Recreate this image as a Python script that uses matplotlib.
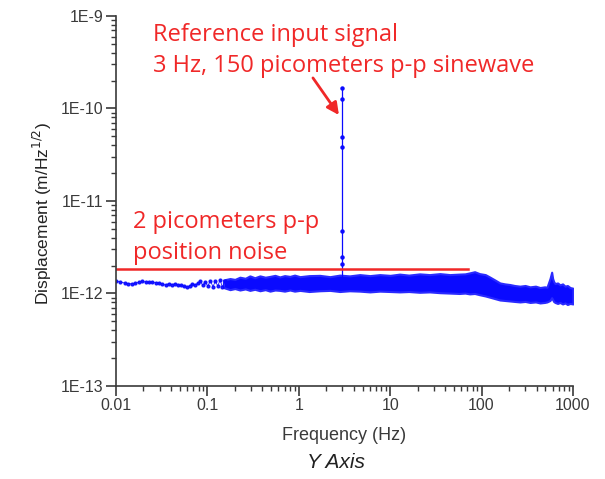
import numpy as np
import matplotlib
matplotlib.use("Agg")
import matplotlib.pyplot as plt
from matplotlib.ticker import FixedLocator, LogLocator, NullFormatter

# sparse low-frequency points of the spectrum
low_freq = [0.0101, 0.0112, 0.0124, 0.0137, 0.0150, 0.0163, 0.0178, 0.0194,
            0.0212, 0.0230, 0.0250, 0.0273, 0.0297, 0.0322, 0.0349, 0.0378,
            0.0410, 0.0442, 0.0477, 0.0515, 0.0555, 0.0597, 0.0640, 0.0686,
            0.0735, 0.0787, 0.0840, 0.0890, 0.0950, 0.1010, 0.1080, 0.1150,
            0.1220, 0.1300, 0.1380, 0.1460, 0.1550]
low_disp = [1.36e-12, 1.33e-12, 1.30e-12, 1.28e-12, 1.27e-12, 1.29e-12,
            1.33e-12, 1.36e-12, 1.33e-12, 1.32e-12, 1.33e-12, 1.31e-12,
            1.30e-12, 1.27e-12, 1.23e-12, 1.28e-12, 1.25e-12, 1.27e-12,
            1.24e-12, 1.22e-12, 1.19e-12, 1.17e-12, 1.21e-12, 1.26e-12,
            1.24e-12, 1.29e-12, 1.36e-12, 1.22e-12, 1.33e-12, 1.20e-12,
            1.38e-12, 1.18e-12, 1.35e-12, 1.21e-12, 1.40e-12, 1.17e-12,
            1.36e-12]

# dense band (upper / lower envelope) above 0.15 Hz
band_freq = [0.150, 0.177, 0.200, 0.227, 0.26, 0.292, 0.33, 0.376, 0.43,
             0.484, 0.55, 0.62, 0.70, 0.80, 0.90, 1.03, 1.3, 1.70, 2.2, 2.81,
             3.6, 4.65, 6.0, 7.7, 10, 12.7, 16, 21, 27, 35, 45, 57, 66, 74,
             84, 95, 110, 124, 140, 159, 180, 204, 230, 263, 300, 339, 390,
             436, 490, 520, 561, 585, 600, 615, 636, 680, 722, 770, 820, 870,
             930, 1000]
band_hi = [1.40e-12, 1.45e-12, 1.42e-12, 1.50e-12, 1.46e-12, 1.55e-12,
           1.48e-12, 1.55e-12, 1.50e-12, 1.53e-12, 1.57e-12, 1.51e-12,
           1.56e-12, 1.53e-12, 1.58e-12, 1.52e-12, 1.56e-12, 1.57e-12,
           1.52e-12, 1.58e-12, 1.55e-12, 1.60e-12, 1.56e-12, 1.60e-12,
           1.57e-12, 1.62e-12, 1.58e-12, 1.63e-12, 1.60e-12, 1.64e-12,
           1.60e-12, 1.62e-12, 1.63e-12, 1.67e-12, 1.72e-12, 1.64e-12,
           1.60e-12, 1.50e-12, 1.40e-12, 1.30e-12, 1.27e-12, 1.25e-12,
           1.22e-12, 1.20e-12, 1.22e-12, 1.18e-12, 1.20e-12, 1.16e-12,
           1.18e-12, 1.17e-12, 1.45e-12, 1.70e-12, 1.45e-12, 1.35e-12,
           1.28e-12, 1.30e-12, 1.24e-12, 1.27e-12, 1.20e-12, 1.22e-12,
           1.16e-12, 1.14e-12]
band_lo = [1.16e-12, 1.10e-12, 1.13e-12, 1.09e-12, 1.12e-12, 1.08e-12,
           1.11e-12, 1.07e-12, 1.10e-12, 1.06e-12, 1.09e-12, 1.08e-12,
           1.06e-12, 1.09e-12, 1.06e-12, 1.08e-12, 1.05e-12, 1.07e-12,
           1.08e-12, 1.05e-12, 1.07e-12, 1.06e-12, 1.04e-12, 1.06e-12,
           1.05e-12, 1.04e-12, 1.05e-12, 1.03e-12, 1.04e-12, 1.02e-12,
           1.01e-12, 1.00e-12, 1.01e-12, 0.99e-12, 1.00e-12, 0.97e-12,
           0.94e-12, 0.91e-12, 0.88e-12, 0.85e-12, 0.84e-12, 0.83e-12,
           0.82e-12, 0.81e-12, 0.82e-12, 0.80e-12, 0.81e-12, 0.79e-12,
           0.80e-12, 0.81e-12, 0.84e-12, 0.90e-12, 0.86e-12, 0.82e-12,
           0.80e-12, 0.78e-12, 0.80e-12, 0.77e-12, 0.79e-12, 0.76e-12,
           0.78e-12, 0.77e-12]

# reference sine peak at 3 Hz
peak_freq = [3.0, 3.0, 3.0, 3.0, 3.0, 3.0, 3.0, 3.0]
peak_disp = [1.4e-12, 2.1e-12, 2.5e-12, 4.7e-12, 3.8e-11, 4.9e-11, 1.27e-10, 1.66e-10]

noise_level = 1.84e-12
noise_fmax = 71

ytick_vals = [1e-13, 1e-12, 1e-11, 1e-10, 1e-9]
ytick_labels = ['1E-13', '1E-12', '1E-11', '1E-10', '1E-9']
xtick_vals = [0.01, 0.1, 1, 10, 100, 1000]
xtick_labels = ['0.01', '0.1', '1', '10', '100', '1000']

blue = '#0a0aff'
red = '#f02828'
grey = '#3a3a3a'

fig = plt.figure(figsize=(6.05, 4.79), dpi=100)
ax = fig.add_axes([0.1917, 0.1942, 0.7553, 0.7724])
ax.set_xscale('log')
ax.set_yscale('log')

ax.fill_between(band_freq, band_lo, band_hi, color=blue, lw=1.5, edgecolor='#2a2aff')
ax.plot(low_freq, low_disp, '-', color=blue, lw=0.6, marker='o', ms=2, alpha=0.9)
ax.plot(peak_freq, peak_disp, '-', color=blue, lw=0.9, marker='o', ms=2.2)

ax.plot([0.01, noise_fmax], [noise_level, noise_level], color=red, lw=1.8)

ax.set_xlim(0.01, 1000)
ax.set_ylim(1e-13, 1e-9)

for s in ['top', 'right']:
    ax.spines[s].set_visible(False)
for s in ['left', 'bottom']:
    ax.spines[s].set_linewidth(1.2)
    ax.spines[s].set_color(grey)

ax.yaxis.set_major_locator(FixedLocator(ytick_vals))
ax.set_yticklabels(ytick_labels)
ax.xaxis.set_major_locator(FixedLocator(xtick_vals))
ax.set_xticklabels(xtick_labels)
ax.xaxis.set_minor_locator(LogLocator(base=10, subs=np.arange(2, 10)))
ax.yaxis.set_minor_locator(LogLocator(base=10, subs=np.arange(2, 10)))
ax.xaxis.set_minor_formatter(NullFormatter())
ax.yaxis.set_minor_formatter(NullFormatter())
ax.tick_params(which='major', direction='out', length=7, width=1.2, color=grey,
               labelsize=11.5, labelcolor=grey, pad=2)
ax.tick_params(which='minor', direction='out', length=3.5, width=1, color=grey)
for lab in ax.get_xticklabels() + ax.get_yticklabels():
    lab.set_fontfamily('Liberation Sans')

ax.set_xlabel('Frequency (Hz)', fontsize=13, family='Liberation Sans', color=grey, labelpad=10)
ax.set_ylabel('Displacement (m/Hz$^{1/2}$)', fontsize=12.5, family='Liberation Sans',
              color='#222222')
ax.yaxis.set_label_coords(-0.135, 0.465)
fig.text(0.556, 0.035, 'Y Axis', fontsize=15, style='italic', family='Liberation Sans',
         ha='center', va='center', color='#222222')

ax.text(0.0254, 8.3e-10, 'Reference input signal\n3 Hz, 150 picometers p-p sinewave',
        fontsize=17, color=red, family='Open Sans', va='top', ha='left', linespacing=1.35)
ax.text(0.01535, 7.9e-12, '2 picometers p-p\nposition noise',
        fontsize=17, color=red, family='Open Sans', va='top', ha='left', linespacing=1.35)
ax.annotate('', xy=(2.75, 8.5e-11), xytext=(1.43, 2.14e-10),
            arrowprops=dict(arrowstyle='-|>', color=red, lw=2, mutation_scale=18,
                            shrinkA=0, shrinkB=0))

fig.savefig('out.png', dpi=100)
